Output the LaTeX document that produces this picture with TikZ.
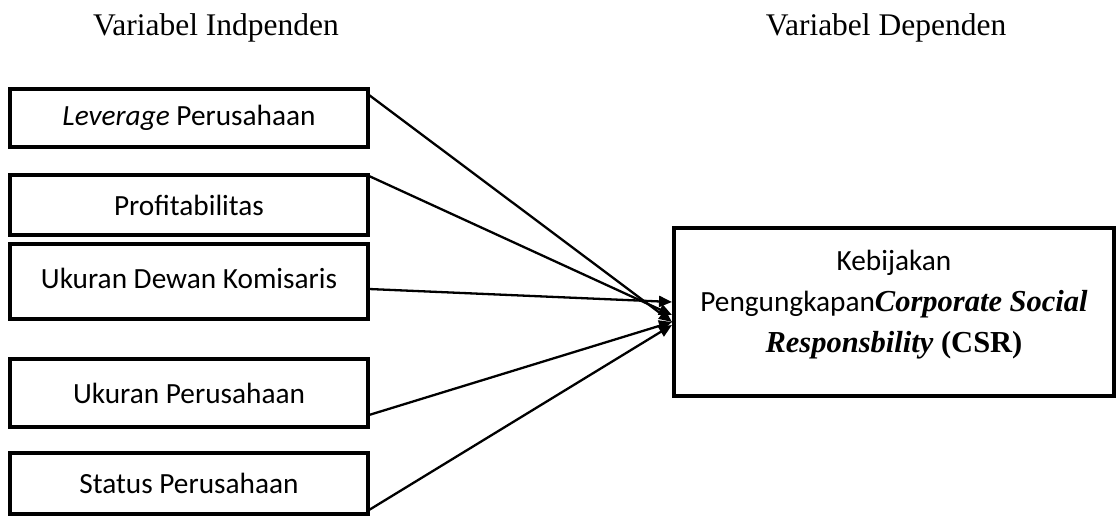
\documentclass[tikz,border=0pt]{standalone}
\usepackage{fontspec}
\setmainfont{Liberation Serif}
\newfontfamily\carlitofont{Carlito}
\usetikzlibrary{arrows.meta}
\begin{document}
\begin{tikzpicture}[x=1pt,y=-1pt,
  vbox/.style={draw,line width=3.5pt,inner sep=0pt,font=\carlitofont\fontsize{29.3}{36}\selectfont},
  hdr/.style={font=\fontsize{31.5}{38}\selectfont,inner sep=0pt},
  conn/.style={line width=2.3pt,-{Triangle[length=13pt,width=11pt]}}]
\useasboundingbox (0,0) rectangle (1117,518);
\node[hdr] (h1) at (216,28) {Variabel Indpenden};
\node[hdr] (h2) at (886,28) {Variabel Dependen};
\node[vbox,minimum width=358pt,minimum height=58pt] (b1) at (189,118) {\textit{Leverage} Perusahaan};
\node[vbox,minimum width=358pt,minimum height=60pt] (b2) at (189,205) {Profitabilitas};
\node[vbox,minimum width=358pt,minimum height=75pt] (b3) at (189,281.5) {\raisebox{6pt}{Ukuran Dewan Komisaris}};
\node[vbox,minimum width=358pt,minimum height=68pt] (b4) at (189,393) {Ukuran Perusahaan};
\node[vbox,minimum width=358pt,minimum height=61pt] (b5) at (189,483.5) {Status Perusahaan};
\node[draw,line width=3.5pt,minimum width=440pt,minimum height=168pt,inner sep=0pt] (t) at (894,312) {};
\node[align=center,inner sep=0pt,font=\fontsize{30.5}{41}\selectfont] (tt) at (894,305)
  {{\carlitofont\fontsize{29.3}{41}\selectfont Kebijakan}\\
   {\carlitofont\fontsize{29.3}{41}\selectfont Pengungkapan}\textbf{\textit{Corporate Social}}\\
   \textbf{\textit{Responsbility} (CSR)}};
\coordinate (s1) at (369,95);
\coordinate (s2) at (369,176);
\coordinate (s3) at (369,289);
\coordinate (s4) at (369,415);
\coordinate (s5) at (369,510);
\coordinate (e1) at (672,322);
\coordinate (e2) at (672,315);
\coordinate (e3) at (672,302);
\coordinate (e4) at (672,322);
\coordinate (e5) at (672,325);
\draw[conn] (s1) -- (e1);
\draw[conn] (s2) -- (e2);
\draw[conn] (s3) -- (e3);
\draw[conn] (s4) -- (e4);
\draw[conn] (s5) -- (e5);
\end{tikzpicture}
\end{document}
